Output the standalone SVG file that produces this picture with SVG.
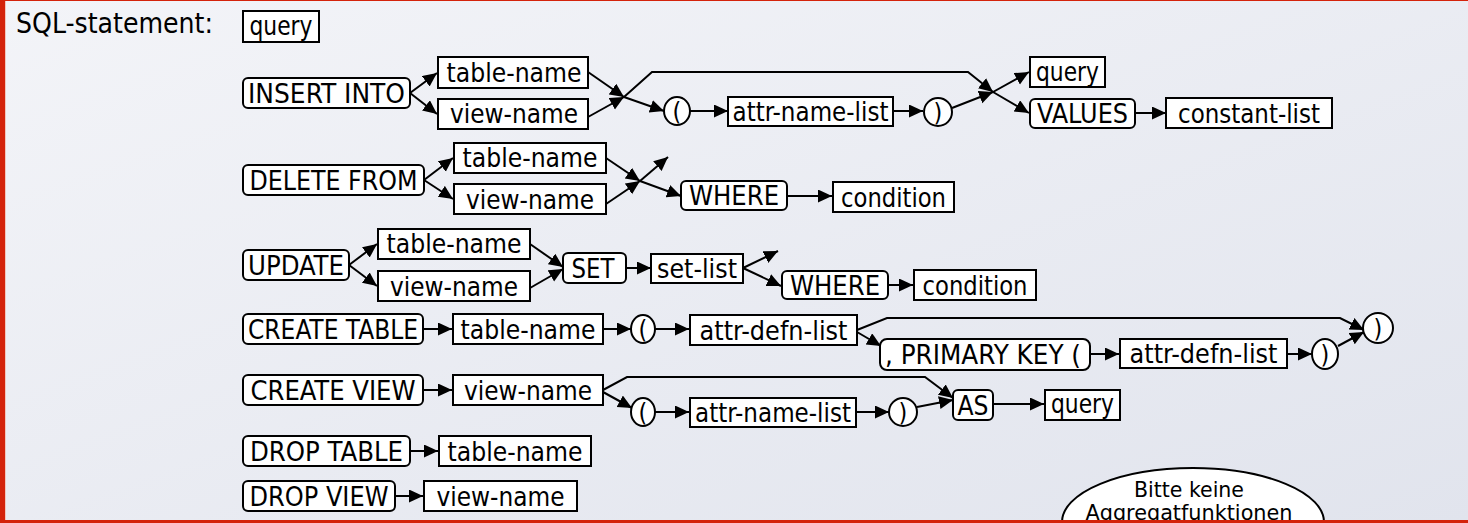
<svg xmlns="http://www.w3.org/2000/svg" width="1468" height="523" viewBox="0 0 1468 523">
<style>
text{font-family:"DejaVu Sans Condensed","DejaVu Sans",sans-serif;font-stretch:condensed;fill:#000}
.t{font-size:27px;text-anchor:middle}
.b{fill:#fff;stroke:#000;stroke-width:2}
.k{fill:#fff;stroke:#000;stroke-width:2}
.c{fill:#fff;stroke:#000;stroke-width:2}
.p{font-size:25px;text-anchor:middle}
#connectors path{fill:none;stroke:#000;stroke-width:2;marker-end:url(#ah)}
</style>
<defs>
<linearGradient id="bg" x1="0" y1="0" x2="1" y2="1">
<stop offset="0" stop-color="#f3f4f8"/>
<stop offset="1" stop-color="#e1e4ed"/>
</linearGradient>
<marker id="ah" markerUnits="userSpaceOnUse" markerWidth="16" markerHeight="14" refX="14" refY="6.5" orient="auto">
<path d="M0,0 L14,6.5 L0,13 z" fill="#000"/>
</marker>
</defs>
<rect x="0" y="0" width="1468" height="523" fill="url(#bg)"/>

<text x="16" y="33" style="font-size:29px" textLength="197" lengthAdjust="spacingAndGlyphs">SQL-statement:</text>

<g id="connectors">
<path d="M410,93 L437,73"/>
<path d="M410,93 L437,114"/>
<path d="M588,72 L624,97"/>
<path d="M588,117 L624,97"/>
<path d="M624,97 L652,72 L968,72 L993,92"/>
<path d="M624,97 L664,111"/>
<path d="M690,111 L728,111"/>
<path d="M893,111 L923,111"/>
<path d="M952,108 L993,92"/>
<path d="M993,92 L1029,72"/>
<path d="M993,92 L1029,113"/>
<path d="M1135,113 L1166,113"/>
<path d="M424,180 L453,158"/>
<path d="M424,180 L453,199"/>
<path d="M606,158 L640,181"/>
<path d="M606,204 L640,181"/>
<path d="M640,181 L668,157"/>
<path d="M640,181 L681,196"/>
<path d="M787,196 L832,196"/>
<path d="M349,265 L377,244"/>
<path d="M349,265 L377,286"/>
<path d="M530,244 L563,267"/>
<path d="M530,288 L563,269"/>
<path d="M626,268 L651,268"/>
<path d="M743,268 L778,251"/>
<path d="M743,268 L781,286"/>
<path d="M888,285 L913,285"/>
<path d="M423,329 L452,329"/>
<path d="M603,329 L631,329"/>
<path d="M655,329 L689,329"/>
<path d="M857,330 L887,318 L1340,318 L1364,330"/>
<path d="M857,332 L881,346"/>
<path d="M1090,354 L1119,354"/>
<path d="M1287,354 L1312,354"/>
<path d="M1338,346 L1364,332"/>
<path d="M423,390 L452,390"/>
<path d="M603,390 L627,377 L925,377 L953,398"/>
<path d="M603,392 L632,408"/>
<path d="M655,412 L689,412"/>
<path d="M856,412 L889,412"/>
<path d="M917,407 L953,400"/>
<path d="M993,404 L1044,404"/>
<path d="M410,451 L438,451"/>
<path d="M395,496 L423,496"/>
</g>

<g id="n-query0"><rect class="b" x="243" y="11" width="76" height="31"/><text class="t" x="281" y="35" textLength="63" lengthAdjust="spacingAndGlyphs">query</text></g>

<g id="n-insert"><rect class="k" x="243" y="78" width="167" height="30" rx="5"/><text class="t" x="326.5" y="102.5" textLength="157" lengthAdjust="spacingAndGlyphs">INSERT INTO</text></g>
<g id="n-ins-table"><rect class="b" x="438" y="57" width="150" height="31"/><text class="t" x="514" y="81.5" textLength="135" lengthAdjust="spacingAndGlyphs">table-name</text></g>
<g id="n-ins-view"><rect class="b" x="438" y="99" width="150" height="30"/><text class="t" x="514" y="123" textLength="128" lengthAdjust="spacingAndGlyphs">view-name</text></g>
<g id="n-ins-lp"><ellipse class="c" cx="677" cy="111" rx="13" ry="14"/><text class="p" x="677" y="119.5">(</text></g>
<g id="n-ins-attr"><rect class="b" x="728" y="97" width="165" height="29"/><text class="t" x="810.5" y="120.5" textLength="156" lengthAdjust="spacingAndGlyphs">attr-name-list</text></g>
<g id="n-ins-rp"><ellipse class="c" cx="938" cy="112" rx="14" ry="14"/><text class="p" x="938" y="120.5">)</text></g>
<g id="n-ins-query"><rect class="b" x="1030" y="57" width="75" height="30"/><text class="t" x="1067.5" y="80.5" textLength="63" lengthAdjust="spacingAndGlyphs">query</text></g>
<g id="n-values"><rect class="k" x="1030" y="99" width="105" height="29" rx="5"/><text class="t" x="1082.5" y="122.5" textLength="91" lengthAdjust="spacingAndGlyphs">VALUES</text></g>
<g id="n-const"><rect class="b" x="1166" y="98" width="166" height="30"/><text class="t" x="1249" y="122.5" textLength="142" lengthAdjust="spacingAndGlyphs">constant-list</text></g>

<g id="n-delete"><rect class="k" x="243" y="165" width="181" height="30" rx="5"/><text class="t" x="333.5" y="189.5" textLength="168" lengthAdjust="spacingAndGlyphs">DELETE FROM</text></g>
<g id="n-del-table"><rect class="b" x="454" y="143" width="152" height="30"/><text class="t" x="530" y="166.5" textLength="135" lengthAdjust="spacingAndGlyphs">table-name</text></g>
<g id="n-del-view"><rect class="b" x="454" y="184" width="152" height="30"/><text class="t" x="530" y="208.5" textLength="128" lengthAdjust="spacingAndGlyphs">view-name</text></g>
<g id="n-del-where"><rect class="k" x="681" y="181" width="106" height="29" rx="5"/><text class="t" x="734" y="204.5" textLength="90" lengthAdjust="spacingAndGlyphs">WHERE</text></g>
<g id="n-del-cond"><rect class="b" x="833" y="182" width="121" height="30"/><text class="t" x="893.5" y="206.5" textLength="105" lengthAdjust="spacingAndGlyphs">condition</text></g>

<g id="n-update"><rect class="k" x="243" y="250" width="106" height="30" rx="5"/><text class="t" x="296" y="274.5" textLength="96" lengthAdjust="spacingAndGlyphs">UPDATE</text></g>
<g id="n-upd-table"><rect class="b" x="378" y="229" width="152" height="30"/><text class="t" x="454" y="252.5" textLength="135" lengthAdjust="spacingAndGlyphs">table-name</text></g>
<g id="n-upd-view"><rect class="b" x="378" y="271" width="152" height="30"/><text class="t" x="454" y="295.5" textLength="128" lengthAdjust="spacingAndGlyphs">view-name</text></g>
<g id="n-set"><rect class="k" x="563" y="253" width="63" height="30" rx="5"/><text class="t" x="593" y="277.5" textLength="43" lengthAdjust="spacingAndGlyphs">SET</text></g>
<g id="n-setlist"><rect class="b" x="651" y="254" width="92" height="29"/><text class="t" x="697" y="277.5" textLength="80" lengthAdjust="spacingAndGlyphs">set-list</text></g>
<g id="n-upd-where"><rect class="k" x="782" y="271" width="106" height="28" rx="5"/><text class="t" x="835" y="294.5" textLength="90" lengthAdjust="spacingAndGlyphs">WHERE</text></g>
<g id="n-upd-cond"><rect class="b" x="914" y="270" width="122" height="30"/><text class="t" x="975" y="294.5" textLength="105" lengthAdjust="spacingAndGlyphs">condition</text></g>

<g id="n-ctable"><rect class="k" x="243" y="314" width="180" height="30" rx="5"/><text class="t" x="333" y="338.5" textLength="170" lengthAdjust="spacingAndGlyphs">CREATE TABLE</text></g>
<g id="n-ct-table"><rect class="b" x="453" y="314" width="150" height="30"/><text class="t" x="528" y="338.5" textLength="135" lengthAdjust="spacingAndGlyphs">table-name</text></g>
<g id="n-ct-lp"><ellipse class="c" cx="643" cy="329" rx="12" ry="14"/><text class="p" x="643" y="337.5">(</text></g>
<g id="n-ct-attr"><rect class="b" x="690" y="315" width="167" height="30"/><text class="t" x="773.5" y="339.5" textLength="148" lengthAdjust="spacingAndGlyphs">attr-defn-list</text></g>
<g id="n-pk"><rect class="k" x="880" y="339" width="210" height="31" rx="7"/><text class="t" x="983" y="363.5" textLength="196" lengthAdjust="spacingAndGlyphs">, PRIMARY KEY (</text></g>
<g id="n-pk-attr"><rect class="b" x="1120" y="339" width="167" height="29"/><text class="t" x="1203.5" y="362.5" textLength="148" lengthAdjust="spacingAndGlyphs">attr-defn-list</text></g>
<g id="n-pk-rp"><ellipse class="c" cx="1325" cy="354" rx="13" ry="15"/><text class="p" x="1325" y="362.5">)</text></g>
<g id="n-ct-rp"><ellipse class="c" cx="1378" cy="328" rx="15" ry="15"/><text class="p" x="1378" y="336.5">)</text></g>

<g id="n-cview"><rect class="k" x="243" y="375" width="180" height="30" rx="5"/><text class="t" x="333" y="399.5" textLength="165" lengthAdjust="spacingAndGlyphs">CREATE VIEW</text></g>
<g id="n-cv-view"><rect class="b" x="453" y="375" width="150" height="30"/><text class="t" x="528" y="399.5" textLength="128" lengthAdjust="spacingAndGlyphs">view-name</text></g>
<g id="n-cv-lp"><ellipse class="c" cx="643" cy="412" rx="12" ry="14"/><text class="p" x="643" y="420.5">(</text></g>
<g id="n-cv-attr"><rect class="b" x="690" y="398" width="166" height="29"/><text class="t" x="773" y="421.5" textLength="156" lengthAdjust="spacingAndGlyphs">attr-name-list</text></g>
<g id="n-cv-rp"><ellipse class="c" cx="903" cy="412" rx="14" ry="14"/><text class="p" x="903" y="420.5">)</text></g>
<g id="n-as"><rect class="k" x="953" y="390" width="40" height="30" rx="5"/><text class="t" x="973" y="414.5" textLength="31" lengthAdjust="spacingAndGlyphs">AS</text></g>
<g id="n-cv-query"><rect class="b" x="1045" y="390" width="75" height="30"/><text class="t" x="1082.5" y="412.5" textLength="63" lengthAdjust="spacingAndGlyphs">query</text></g>

<g id="n-dtable"><rect class="k" x="243" y="436" width="167" height="30" rx="5"/><text class="t" x="326.5" y="460.5" textLength="153" lengthAdjust="spacingAndGlyphs">DROP TABLE</text></g>
<g id="n-dt-table"><rect class="b" x="439" y="436" width="152" height="30"/><text class="t" x="515" y="460.5" textLength="135" lengthAdjust="spacingAndGlyphs">table-name</text></g>
<g id="n-dview"><rect class="k" x="243" y="481" width="152" height="30" rx="5"/><text class="t" x="319" y="505.5" textLength="139" lengthAdjust="spacingAndGlyphs">DROP VIEW</text></g>
<g id="n-dv-view"><rect class="b" x="424" y="481" width="153" height="30"/><text class="t" x="500.5" y="505.5" textLength="128" lengthAdjust="spacingAndGlyphs">view-name</text></g>

<g id="n-note"><ellipse cx="1193" cy="522" rx="131" ry="54" fill="#fff" stroke="#000" stroke-width="2"/><text x="1189" y="497" style="font-size:22px;text-anchor:middle" textLength="110" lengthAdjust="spacingAndGlyphs">Bitte keine</text><text x="1189" y="520" style="font-size:22px;text-anchor:middle" textLength="207" lengthAdjust="spacingAndGlyphs">Aggregatfunktionen</text></g>

<rect x="0" y="0" width="5" height="523" fill="#d4230b"/>
<rect x="5" y="0" width="1" height="523" fill="#f2c6bd"/>
<rect x="0" y="0" width="1468" height="1" fill="#d4230b"/>
<rect x="0" y="520" width="1468" height="3" fill="#d4230b"/>
</svg>
